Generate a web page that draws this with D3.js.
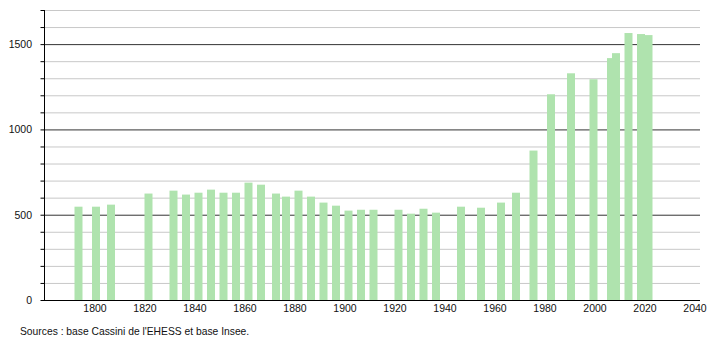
<!DOCTYPE html>
<html>
<head>
<meta charset="utf-8">
<script src="https://cdn.jsdelivr.net/npm/d3@7"></script>
<style>
  body { margin: 0; background: #fff; }
  text { font-family: "Liberation Sans", Arial, sans-serif; fill: #111; }
</style>
</head>
<body>
<div class="main"></div>
<script>
// annees de recensement et population
var years = [1793, 1800, 1806, 1821, 1831, 1836, 1841, 1846, 1851, 1856,
             1861, 1866, 1872, 1876, 1881, 1886, 1891, 1896, 1901, 1906,
             1911, 1921, 1926, 1931, 1936, 1946, 1954, 1962, 1968, 1975,
             1982, 1990, 1999, 2006, 2008, 2013, 2018, 2021];
var population = [547, 547, 559, 624, 641, 618, 629, 647, 629, 629,
                  688, 676, 624, 606, 641, 606, 571, 553, 524, 529,
                  529, 529, 506, 535, 512, 547, 541, 571, 629, 876,
                  1206, 1329, 1294, 1418, 1447, 1565, 1559, 1553];
var xTicks = [1800, 1820, 1840, 1860, 1880, 1900, 1920, 1940, 1960, 1980, 2000, 2020, 2040];
var yLabels = [0, 500, 1000, 1500];
var source = "Sources : base Cassini de l'EHESS et base Insee.";

var width = 710, height = 340;
var mLeft = 44, mRight = 700, mTop = 10, mBottom = 300;

var svg = d3.select('.main').append('svg')
    .attr('width', width)
    .attr('height', height);

// escalas
var x = d3.scaleLinear().domain([1779.2, 2041.6]).range([mLeft, mRight]);
var y = d3.scaleLinear().domain([0, 1700]).range([mBottom, mTop]);

// grade horizontal (cada 100, mais escura a cada 500)
var gridVals = d3.range(100, 1701, 100);
svg.append('g').selectAll('line').data(gridVals).enter().append('line')
    .attr('x1', mLeft).attr('x2', mRight)
    .attr('y1', d => y(d) + 0.5).attr('y2', d => y(d) + 0.5)
    .attr('stroke', d => d % 500 == 0 ? '#333' : '#c8c8c8')
    .attr('stroke-width', 1);

// barras
var bw = 8;
svg.append('g').selectAll('rect').data(years).enter().append('rect')
    .attr('x', (d, i) => x(d) - bw / 2)
    .attr('y', (d, i) => y(population[i]))
    .attr('width', bw)
    .attr('height', (d, i) => y(0) - y(population[i]))
    .attr('fill', '#afe3ae');

// eixo y
var yAxis = svg.append('g')
    .attr('transform', 'translate(' + (mLeft + 0.5) + ',0)')
    .call(d3.axisLeft(y).tickValues(d3.range(0, 1701, 100)).tickSize(4).tickFormat(''));
yAxis.selectAll('line, path').attr('stroke', '#000');
yAxis.select('path').attr('d', 'M0,' + mTop + 'V' + mBottom);

svg.append('g').selectAll('text').data(yLabels).enter().append('text')
    .attr('x', 32)
    .attr('y', d => y(d) + 4)
    .attr('text-anchor', 'end')
    .attr('font-size', '10.5px')
    .text(d => d);

// eixo x
svg.append('line')
    .attr('x1', mLeft).attr('x2', mRight)
    .attr('y1', mBottom + 0.5).attr('y2', mBottom + 0.5)
    .attr('stroke', '#000');

svg.append('g').selectAll('text').data(xTicks).enter().append('text')
    .attr('x', d => x(d) - 1)
    .attr('y', 312)
    .attr('text-anchor', 'middle')
    .attr('font-size', '10.5px')
    .text(d => d);

// fonte
svg.append('text')
    .attr('x', 20)
    .attr('y', 335)
    .attr('font-size', '10.3px')
    .text(source);
</script>
</body>
</html>
